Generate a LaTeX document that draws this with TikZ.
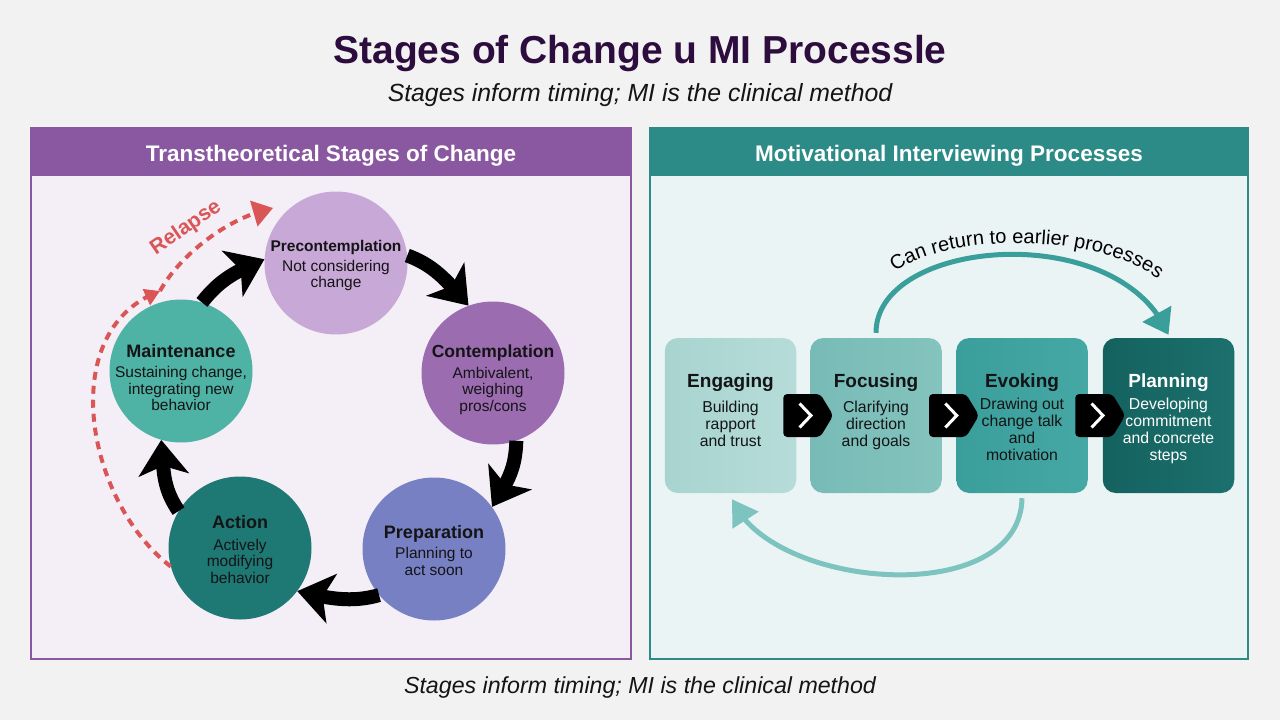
\documentclass[tikz,border=0pt]{standalone}
\usepackage{fontspec}
\setmainfont{Liberation Sans}
\usetikzlibrary{arrows.meta,bending,calc,decorations.text}

\definecolor{bg}{RGB}{242,242,243}
\definecolor{titlec}{RGB}{45,12,62}
\definecolor{ink}{RGB}{20,20,22}
\definecolor{lhead}{RGB}{137,88,160}
\definecolor{lbody}{RGB}{244,239,246}
\definecolor{rhead}{RGB}{44,139,135}
\definecolor{rbody}{RGB}{235,244,244}
\definecolor{cpre}{RGB}{200,168,214}
\definecolor{ccon}{RGB}{156,108,176}
\definecolor{cprep}{RGB}{120,128,196}
\definecolor{cact}{RGB}{30,120,115}
\definecolor{cmain}{RGB}{78,178,164}
\definecolor{beng}{RGB}{168,212,208}
\definecolor{bengr}{RGB}{182,220,217}
\definecolor{bfoc}{RGB}{120,187,182}
\definecolor{bfocr}{RGB}{132,195,190}
\definecolor{bevo}{RGB}{58,158,154}
\definecolor{bevor}{RGB}{70,168,164}
\definecolor{bpla}{RGB}{20,98,95}
\definecolor{bplar}{RGB}{28,112,109}
\definecolor{relred}{RGB}{218,86,86}
\definecolor{arctop}{RGB}{58,158,154}
\definecolor{arcbot}{RGB}{125,196,192}

\begin{document}
\begin{tikzpicture}[x=1pt,y=-1pt,
  panel/.style={rectangle, line width=2pt, inner sep=0pt, minimum width=600pt, minimum height=531pt},
  phead/.style={rectangle, inner sep=0pt, minimum width=600pt, minimum height=49pt, anchor=north},
  htext/.style={anchor=base, inner sep=0pt, text=white, font=\bfseries\fontsize{22.5}{26}\selectfont},
  stage/.style={circle, inner sep=0pt, minimum size=143pt},
  ttl/.style={anchor=base, inner sep=0pt, text=ink, font=\bfseries\fontsize{18}{20}\selectfont},
  stsub/.style={anchor=base, inner sep=0pt, text=ink, font=\fontsize{15.5}{17}\selectfont},
  pbox/.style={rectangle, rounded corners=13pt, inner sep=0pt, minimum width=131.5pt, minimum height=155pt},
  bttl/.style={anchor=base, inner sep=0pt, text=ink, font=\bfseries\fontsize{19}{22}\selectfont},
  bsub/.style={anchor=base, inner sep=0pt, text=ink, font=\fontsize{15.8}{17}\selectfont},
  cyc/.style={line width=14pt, black, -{Stealth[length=35pt,width=50pt,inset=9pt]}},
  relapse/.style={relred, line width=4pt, dash pattern=on 8pt off 6pt},
  chevbox/.style={fill=black, rounded corners=4pt},
  chevline/.style={white, line width=3pt}
]
\useasboundingbox (0,0) rectangle (1280,720);
\fill[bg] (0,0) rectangle (1280,720);

% titles
\node[anchor=base, inner sep=0pt, text=titlec, font=\bfseries\fontsize{39}{44}\selectfont] (title) at (640,63) {Stages of Change u MI Processle};
\node[anchor=base, inner sep=0pt, text=ink, font=\itshape\fontsize{24.8}{28}\selectfont] (subtitle) at (640,101) {Stages inform timing; MI is the clinical method};
\node[anchor=base, inner sep=0pt, text=ink, font=\itshape\fontsize{23.2}{27}\selectfont] (caption) at (640,693) {Stages inform timing; MI is the clinical method};

% left panel
\node[panel, draw=lhead, fill=lbody] (lpanel) at (331,393.5) {};
\node[phead, fill=lhead] (lphead) at (lpanel.north) {};
\node[htext] (lptitle) at (331,161) {Transtheoretical Stages of Change};

% right panel
\node[panel, draw=rhead, fill=rbody, minimum width=598pt] (rpanel) at (949,393.5) {};
\node[phead, fill=rhead, minimum width=598pt] (rphead) at (rpanel.north) {};
\node[htext] (rptitle) at (949,161) {Motivational Interviewing Processes};

% stage circles
\node[stage, fill=cpre] (pre) at (336,263) {};
\node[stage, fill=ccon] (con) at (493,373) {};
\node[stage, fill=cprep] (prep) at (434,549) {};
\node[stage, fill=cact] (act) at (240,548) {};
\node[stage, fill=cmain] (main) at (181,371) {};

% cycle arrows (arcs round the centre of the ring)
\draw[cyc] (pre.6) .. controls ($(pre.6)+(-20:30pt)$) and ($(con.110)+(131:30pt)$) .. (con.110);
\draw[cyc] (con.-71) .. controls ($(con.-71)+(-92:30pt)$) and ($(prep.36)+(59:30pt)$) .. (prep.36);
\draw[cyc] (prep.220) .. controls ($(prep.220)+(-164:30pt)$) and ($(act.-37)+(-13:30pt)$) .. (act.-37);
\draw[cyc] (act.149) .. controls ($(act.149)+(124:30pt)$) and ($(main.254)+(-85:30pt)$) .. (main.254);
\draw[cyc] (main.73) .. controls ($(main.73)+(52:30pt)$) and ($(pre.177)+(203:30pt)$) .. (pre.177);

% stage texts
\node[ttl, font=\bfseries\fontsize{15.5}{17}\selectfont] (pre-t) at (336,251) {Precontemplation};
\node[stsub] (pre-s1) at (336,271) {Not considering};
\node[stsub] (pre-s2) at (336,287) {change};

\node[ttl, font=\bfseries\fontsize{17.5}{20}\selectfont] (con-t) at (493,357) {Contemplation};
\node[stsub] (con-s1) at (493,378) {Ambivalent,};
\node[stsub] (con-s2) at (493,394.5) {weighing};
\node[stsub] (con-s3) at (493,411) {pros/cons};

\node[ttl] (prep-t) at (434,538) {Preparation};
\node[stsub] (prep-s1) at (434,558.5) {Planning to};
\node[stsub] (prep-s2) at (434,575) {act soon};

\node[ttl] (act-t) at (240,528) {Action};
\node[stsub] (act-s1) at (240,550) {Actively};
\node[stsub] (act-s2) at (240,566.5) {modifying};
\node[stsub] (act-s3) at (240,583) {behavior};

\node[ttl] (main-t) at (181,357) {Maintenance};
\node[stsub] (main-s1) at (181,377.5) {Sustaining change,};
\node[stsub] (main-s2) at (181,394) {integrating new};
\node[stsub] (main-s3) at (181,410.5) {behavior};

% relapse
\coordinate (relmid) at (160,291);
\coordinate (relend) at (273,208);
\draw[relapse, -{Triangle[length=15pt,width=17pt]}] (act.195) .. controls (85,500) and (55,330) .. (relmid);
\draw[relapse, -{Triangle[length=20pt,width=26pt]}] (relmid) .. controls (178,258) and (225,218) .. (relend);
\node[rotate=34.5, inner sep=0pt, text=relred, font=\bfseries\fontsize{21}{24}\selectfont] (rlab) at (186,228) {Relapse};

% MI boxes
\node[pbox, left color=beng, right color=bengr] (eng) at (730.5,415.5) {};
\node[pbox, left color=bfoc, right color=bfocr] (foc) at (876,415.5) {};
\node[pbox, left color=bevo, right color=bevor] (evo) at (1022,415.5) {};
\node[pbox, left color=bpla, right color=bplar] (pla) at (1168.5,415.5) {};

\node[bttl] (eng-t) at (730.5,387) {Engaging};
\node[bsub] (eng-s1) at (730.5,412) {Building};
\node[bsub] (eng-s2) at (730.5,429) {rapport};
\node[bsub] (eng-s3) at (730.5,446) {and trust};

\node[bttl] (foc-t) at (876,387) {Focusing};
\node[bsub] (foc-s1) at (876,412) {Clarifying};
\node[bsub] (foc-s2) at (876,429) {direction};
\node[bsub] (foc-s3) at (876,446) {and goals};

\node[bttl] (evo-t) at (1022,387) {Evoking};
\node[bsub] (evo-s1) at (1022,409.5) {Drawing out};
\node[bsub] (evo-s2) at (1022,426.5) {change talk};
\node[bsub] (evo-s3) at (1022,443.5) {and};
\node[bsub] (evo-s4) at (1022,460.5) {motivation};

\node[bttl, text=white] (pla-t) at (1168.5,387) {Planning};
\node[bsub, text=white] (pla-s1) at (1168.5,409.5) {Developing};
\node[bsub, text=white] (pla-s2) at (1168.5,426.5) {commitment};
\node[bsub, text=white] (pla-s3) at (1168.5,443.5) {and concrete};
\node[bsub, text=white] (pla-s4) at (1168.5,460.5) {steps};

% chevrons between boxes
\coordinate (ch1) at ($(eng.east)!0.5!(foc.west)+(5,0)$);
\coordinate (ch2) at ($(foc.east)!0.5!(evo.west)+(5,0)$);
\coordinate (ch3) at ($(evo.east)!0.5!(pla.west)+(5,0)$);
\foreach \c in {ch1,ch2,ch3}{
  \fill[chevbox] ($(\c)+(-25,-21.5)$) -- ($(\c)+(12,-21.5)$) -- ($(\c)+(25,0)$) -- ($(\c)+(12,21.5)$) -- ($(\c)+(-25,21.5)$) -- cycle;
  \draw[chevline] ($(\c)+(-8.7,-12)$) -- ($(\c)+(2.7,0)$) -- ($(\c)+(-8.7,12)$);
}

% return arcs
\draw[arctop, line width=5pt, -{Triangle[length=24pt,width=32pt]}] ([yshift=5pt]foc.north) .. controls (876,238) and (1120,218) .. ([yshift=3pt]pla.north);
\path[decorate, decoration={text along path, text align=center,
  text={|\fontsize{20}{24}\selectfont|Can return to earlier processes}}]
  (893,274) .. controls (940,233) and (1100,231) .. (1160,281);
\draw[arcbot, line width=5pt, -{Triangle[length=25pt,width=30pt]}] ([yshift=-5pt]evo.south) .. controls (1020,610) and (770,590) .. ([xshift=1.5pt,yshift=-6pt]eng.south);

\end{tikzpicture}
\end{document}
